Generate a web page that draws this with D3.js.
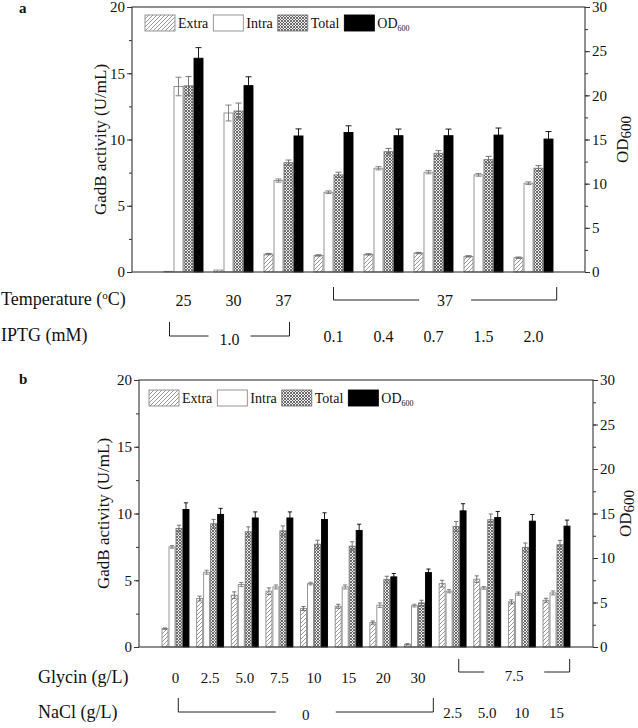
<!DOCTYPE html>
<html><head><meta charset="utf-8">
<script src="https://cdn.jsdelivr.net/npm/d3@7"></script>
<style>
body{margin:0;background:#fff}
svg{display:block}
text{font-family:"Liberation Serif","Times New Roman",serif;fill:#111}
</style>
</head><body>
<svg id="chart" width="638" height="728"></svg>
<script>
// ---------- DATA ----------
const seriesNames = ["Extra", "Intra", "Total", "OD600"];

// Panel a
const aTemperature = ["25", "30", "37", "", "", "", "", ""];
const aIPTG = ["", "", "", "0.1", "0.4", "0.7", "1.5", "2.0"];
const aExtra    = [0.05, 0.15, 1.35, 1.25, 1.33, 1.43, 1.18, 1.08];
const aExtraErr = [0, 0, 0.05, 0.05, 0.05, 0.05, 0.05, 0.05];
const aIntra    = [14.0, 12.0, 6.9, 6.02, 7.83, 7.53, 7.33, 6.7];
const aIntraErr = [0.7, 0.6, 0.12, 0.1, 0.12, 0.12, 0.1, 0.1];
const aTotal    = [14.05, 12.15, 8.25, 7.33, 9.08, 8.96, 8.48, 7.83];
const aTotalErr = [0.7, 0.6, 0.2, 0.2, 0.25, 0.2, 0.25, 0.2];
const aOD       = [24.2, 21.1, 15.4, 15.8, 15.43, 15.43, 15.5, 15.05];
const aODErr    = [1.2, 1.0, 0.8, 0.75, 0.75, 0.75, 0.8, 0.85];

// Panel b
const bGlycin = ["0", "2.5", "5.0", "7.5", "10", "15", "20", "30", "", "", "", ""];
const bNaCl   = ["", "", "", "", "", "", "", "", "2.5", "5.0", "10", "15"];
const bExtra    = [1.375, 3.63, 3.88, 4.18, 2.88, 3.05, 1.83, 0.2, 4.75, 5.08, 3.38, 3.5];
const bExtraErr = [0.05, 0.18, 0.25, 0.25, 0.15, 0.15, 0.12, 0.05, 0.25, 0.25, 0.15, 0.15];
const bIntra    = [7.5, 5.6, 4.68, 4.5, 4.75, 4.5, 3.13, 3.1, 4.18, 4.43, 4.0, 4.05];
const bIntraErr = [0.1, 0.15, 0.15, 0.15, 0.1, 0.15, 0.17, 0.1, 0.12, 0.1, 0.12, 0.15];
const bTotal    = [8.875, 9.23, 8.63, 8.7, 7.7, 7.55, 5.05, 3.3, 9.03, 9.53, 7.46, 7.66];
const bTotalErr = [0.25, 0.33, 0.37, 0.37, 0.3, 0.33, 0.25, 0.2, 0.37, 0.43, 0.33, 0.33];
const bOD       = [15.45, 14.9, 14.5, 14.5, 14.33, 13.1, 7.88, 8.36, 15.3, 14.55, 14.14, 13.58];
const bODErr    = [0.75, 0.68, 0.68, 0.68, 0.75, 0.7, 0.38, 0.4, 0.8, 0.68, 0.75, 0.68];

const leftTicksMajor = [0, 5, 10, 15, 20];
const rightTicksMajor = [0, 5, 10, 15, 20, 25, 30];

// ---------- DRAW ----------
const svg = d3.select("#chart");
const defs = svg.append("defs");
const hatch = defs.append("pattern").attr("id", "hatch").attr("patternUnits", "userSpaceOnUse")
  .attr("width", 4).attr("height", 4);
hatch.append("rect").attr("width", 4).attr("height", 4).attr("fill", "#fff");
hatch.append("path").attr("d", "M-1,1 l2,-2 M0,4 l4,-4 M3,5 l2,-2")
  .attr("stroke", "#8c8c8c").attr("stroke-width", 0.9);
const cross = defs.append("pattern").attr("id", "cross").attr("patternUnits", "userSpaceOnUse")
  .attr("width", 3).attr("height", 3);
cross.append("rect").attr("width", 3).attr("height", 3).attr("fill", "#eee");
cross.append("path").attr("d", "M0,0 L3,3 M3,0 L0,3").attr("stroke", "#555").attr("stroke-width", 0.85);

const fills = {Extra: "url(#hatch)", Intra: "#fff", Total: "url(#cross)", OD600: "#000"};
const strokes = {Extra: "#8c8c8c", Intra: "#8c8c8c", Total: "#777", OD600: "#000"};
const errColor = {Extra: "#666", Intra: "#777", Total: "#666", OD600: "#000"};

const panels = [
  {
    label: "a", labelY: 13, top: 7, bottom: 272, left: 132, right: 585,
    padIn: 0.2, padOut: 0.63, yTitleX: 100, odTitleX: 623, legendX: 145, legendY: 15,
    values: {Extra: aExtra, Intra: aIntra, Total: aTotal, OD600: aOD},
    errors: {Extra: aExtraErr, Intra: aIntraErr, Total: aTotalErr, OD600: aODErr},
    rows: [
      {title: [["Temperature ("], ["o", "sup"], ["C)", "back"]], titleX: 1, y: 299, labels: aTemperature, size: 16,
       bracket: {from: 3, fromF: 0.5, to: 7, toF: 1.08, text: "37", gap: 26, top: 287, line: 300}},
      {title: [["IPTG (mM)"]], titleX: 1, y: 335, labels: aIPTG, size: 16,
       bracket: {from: 0, fromF: 0.15, to: 2, toF: 0.65, text: "1.0", gap: 21, top: 322, line: 336, textDy: 3}}
    ]
  },
  {
    label: "b", labelY: 384, top: 380, bottom: 647, left: 139, right: 593,
    padIn: 0.193, padOut: 0.65, yTitleX: 103, odTitleX: 626, legendX: 149, legendY: 390,
    values: {Extra: bExtra, Intra: bIntra, Total: bTotal, OD600: bOD},
    errors: {Extra: bExtraErr, Intra: bIntraErr, Total: bTotalErr, OD600: bODErr},
    rows: [
      {title: [["Glycin (g/L)"]], titleX: 38, y: 677, labels: bGlycin, size: 15,
       bracket: {from: 8, fromF: 0.72, to: 11, toF: 0.97, text: "7.5", gap: 30, top: 659, line: 672, textDy: 4}},
      {title: [["NaCl (g/L)"]], titleX: 38, y: 712, labels: bNaCl, size: 15,
       bracket: {from: 0, fromF: 0.6, to: 7, toF: 1.05, text: "0", gap: 30, top: 698, line: 712, textDy: 3}}
    ]
  }
];

panels.forEach(p => {
  const n = p.values.Extra.length;
  const g = svg.append("g");
  const x = d3.scaleBand().domain(d3.range(n)).range([p.left, p.right])
    .paddingInner(p.padIn).paddingOuter(p.padOut);
  const xs = d3.scaleBand().domain(seriesNames).range([0, x.bandwidth()]);
  const y = d3.scaleLinear().domain([0, 20]).range([p.bottom, p.top]);
  const yR = d3.scaleLinear().domain([0, 30]).range([p.bottom, p.top]);
  const scaleFor = s => s === "OD600" ? yR : y;

  // bars
  seriesNames.forEach(s => {
    const sc = scaleFor(s);
    const vals = p.values[s];
    g.selectAll(null).data(vals).enter().append("rect")
      .attr("x", (d, i) => x(i) + xs(s) + 0.5)
      .attr("y", d => sc(d))
      .attr("width", xs.bandwidth() - 1)
      .attr("height", d => Math.max(0, sc(0) - sc(d)))
      .attr("fill", fills[s]).attr("stroke", strokes[s]).attr("stroke-width", 0.9);
  });
  // error bars
  seriesNames.forEach(s => {
    const sc = scaleFor(s);
    const vals = p.values[s], errs = p.errors[s];
    const capW = xs.bandwidth() * 0.3;
    vals.forEach((v, i) => {
      const e = errs[i];
      if (!e) return;
      const cx = x(i) + xs(s) + xs.bandwidth() / 2;
      const path = d3.path();
      path.moveTo(cx, sc(v - e)); path.lineTo(cx, sc(v + e));
      path.moveTo(cx - capW, sc(v + e)); path.lineTo(cx + capW, sc(v + e));
      path.moveTo(cx - capW, sc(v - e)); path.lineTo(cx + capW, sc(v - e));
      g.append("path").attr("d", path.toString()).attr("stroke", errColor[s])
        .attr("stroke-width", 0.9).attr("fill", "none");
    });
  });

  // axes
  const axisColor = "#333";
  const styleAxis = sel => {
    sel.select(".domain").remove();
    sel.selectAll(".tick line").attr("stroke", axisColor);
    sel.selectAll(".tick text").style("font-family", '"Liberation Serif",serif')
      .style("font-size", "15px").attr("fill", "#111");
  };
  g.append("g").attr("transform", `translate(${p.left},0)`)
    .call(d3.axisLeft(y).tickValues(d3.range(0, 20.01, 2.5)).tickSize(3).tickFormat(""))
    .call(styleAxis);
  g.append("g").attr("transform", `translate(${p.left},0)`)
    .call(d3.axisLeft(y).tickValues(leftTicksMajor).tickSize(5).tickPadding(2).tickFormat(d3.format("d")))
    .call(styleAxis);
  g.append("g").attr("transform", `translate(${p.right},0)`)
    .call(d3.axisRight(yR).tickValues(d3.range(0, 30.01, 2.5)).tickSize(3).tickFormat(""))
    .call(styleAxis);
  g.append("g").attr("transform", `translate(${p.right},0)`)
    .call(d3.axisRight(yR).tickValues(rightTicksMajor).tickSize(5).tickPadding(2).tickFormat(d3.format("d")))
    .call(styleAxis);
  g.append("rect").attr("x", p.left).attr("y", p.top)
    .attr("width", p.right - p.left).attr("height", p.bottom - p.top)
    .attr("fill", "none").attr("stroke", axisColor).attr("stroke-width", 1.1);

  // axis titles
  g.append("text").attr("transform", `translate(${p.yTitleX},${(p.top + p.bottom) / 2}) rotate(-90)`)
    .attr("text-anchor", "middle").attr("dy", "0.35em").style("font-size", "17px")
    .text("GadB activity (U/mL)");
  const od = g.append("text").attr("transform", `translate(${p.odTitleX},${(p.top + p.bottom) / 2}) rotate(-90)`)
    .attr("text-anchor", "middle").style("font-size", "17px");
  od.append("tspan").attr("dy", "0.3em").text("OD");
  od.append("tspan").attr("dy", 3).style("font-size", "15px").text("600");

  // panel label
  g.append("text").attr("x", 19).attr("y", p.labelY).style("font-size", "15px")
    .style("font-weight", "bold").text(p.label);

  // legend
  let lx = p.legendX;
  seriesNames.forEach(s => {
    g.append("rect").attr("x", lx).attr("y", p.legendY).attr("width", 30).attr("height", 16)
      .attr("fill", fills[s]).attr("stroke", strokes[s]).attr("stroke-width", 0.9);
    const t = g.append("text").attr("x", lx + 33).attr("y", p.legendY + 8)
      .style("font-size", "14px");
    if (s === "OD600") {
      t.append("tspan").attr("dy", "0.35em").text("OD");
      t.append("tspan").attr("dy", 3).style("font-size", "8px").text("600");
    } else t.append("tspan").attr("dy", "0.35em").text(s);
    lx += 33 + t.node().getComputedTextLength() + 5;
  });

  // bottom condition rows
  p.rows.forEach(r => {
    const tt = g.append("text").attr("x", r.titleX).attr("y", r.y).style("font-size", "18px");
    r.title.forEach(([txt, kind], k) => {
      const ts = tt.append("tspan").text(txt);
      if (k === 0) ts.attr("dy", "0.35em");
      if (kind === "sup") ts.attr("dy", -6).style("font-size", "11px");
      if (kind === "back") ts.attr("dy", 6);
    });
    r.labels.forEach((lab, i) => {
      if (!lab) return;
      g.append("text").attr("x", x(i) + x.bandwidth() / 2).attr("y", r.y + 1).attr("dy", "0.35em")
        .attr("text-anchor", "middle").style("font-size", r.size + "px").text(lab);
    });
    const b = r.bracket;
    const x0 = x(b.from) + b.fromF * x.bandwidth();
    const x1 = x(b.to) + b.toF * x.bandwidth();
    const mid = (x0 + x1) / 2;
    const bp = d3.path();
    bp.moveTo(x0, b.top); bp.lineTo(x0, b.line); bp.lineTo(mid - b.gap, b.line);
    bp.moveTo(mid + b.gap, b.line); bp.lineTo(x1, b.line); bp.lineTo(x1, b.top);
    g.append("path").attr("d", bp.toString()).attr("fill", "none").attr("stroke", "#222").attr("stroke-width", 1);
    g.append("text").attr("x", mid).attr("y", b.line + (b.textDy || 0)).attr("dy", "0.35em")
      .attr("text-anchor", "middle").style("font-size", r.size + "px").text(b.text);
  });
});
</script>
</body></html>
